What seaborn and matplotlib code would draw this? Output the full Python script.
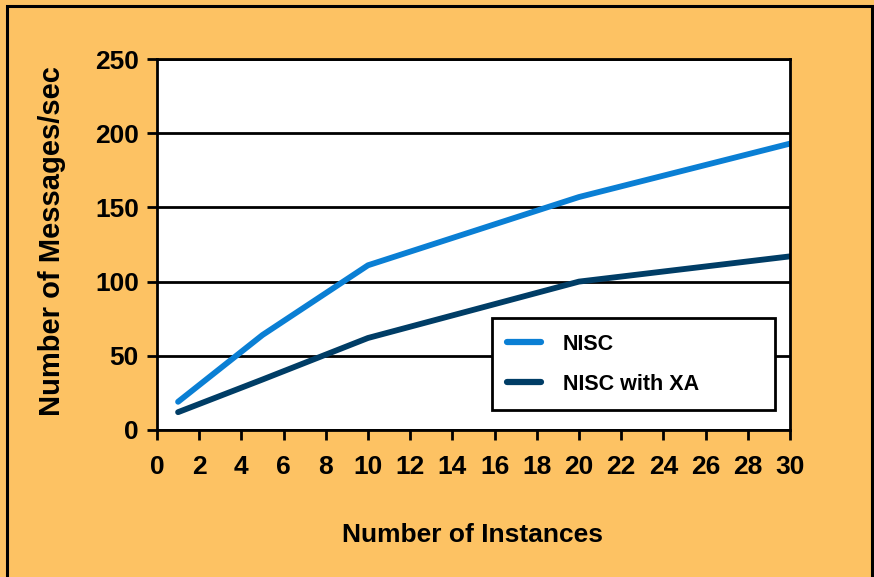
import matplotlib
matplotlib.use("Agg")
import matplotlib.pyplot as plt
from matplotlib.patches import Rectangle
import pandas as pd
import seaborn as sns

INSTANCES = [1, 5, 10, 20, 30]
NISC = [19, 64, 111, 157, 193]
NISC_XA = [12, 34, 62, 100, 117]
SERIES = ["NISC", "NISC with XA"]
COLORS = {"NISC": "#0A7FD4", "NISC with XA": "#003D66"}
BG = "#FDC263"

df = pd.DataFrame({
    "Number of Instances": INSTANCES * 2,
    "Number of Messages/sec": NISC + NISC_XA,
    "series": [SERIES[0]] * len(NISC) + [SERIES[1]] * len(NISC_XA),
})

sns.set_theme(style="white")
plt.rcParams["font.family"] = ["Liberation Sans", "DejaVu Sans"]
plt.rcParams["text.color"] = "black"
plt.rcParams["axes.labelcolor"] = "black"
plt.rcParams["xtick.color"] = "black"
plt.rcParams["ytick.color"] = "black"

fig = plt.figure(figsize=(8.74, 5.77), dpi=100, facecolor=BG)
ax = fig.add_axes([0.1796, 0.2548, 0.7243, 0.6429])
fig.patches.append(Rectangle((7 / 874, -0.05), 865 / 874, 1.05 - 5.5 / 577,
                             transform=fig.transFigure, fill=False,
                             edgecolor="black", linewidth=2.2))

sns.lineplot(data=df, x="Number of Instances", y="Number of Messages/sec",
             hue="series", palette=COLORS, linewidth=4.2, ax=ax)

ax.set_xlim(0, 30)
ax.set_ylim(0, 250)
ax.set_xticks(range(0, 31, 2))
ax.set_yticks(range(0, 251, 50))
ax.yaxis.grid(True, color="black", linewidth=2)
ax.set_axisbelow(True)
for side in ax.spines.values():
    side.set_color("black")
    side.set_linewidth(2)
ax.tick_params(axis="both", direction="out", length=7, width=2, color="black",
               labelsize=19, bottom=True, left=True)
ax.tick_params(axis="x", pad=11)
ax.tick_params(axis="y", pad=6)
for lab in ax.get_xticklabels() + ax.get_yticklabels():
    lab.set_fontweight("bold")

ax.set_xlabel("Number of Instances", fontsize=19, fontweight="bold")
ax.set_ylabel("Number of Messages/sec", fontsize=21, fontweight="bold")
ax.xaxis.set_label_coords(0.499, -0.25)
ax.yaxis.set_label_coords(-0.143, 0.51)

leg = ax.legend(title=None, loc="lower left", bbox_to_anchor=(0.529, 0.054, 0.447, 0.26),
                mode="expand", fancybox=False, framealpha=1, edgecolor="black",
                fontsize=15.5, handlelength=1.6, handletextpad=1.0, borderaxespad=0,
                labelspacing=0.9, borderpad=0.7)
leg.get_frame().set_linewidth(2)
for t in leg.get_texts():
    t.set_fontweight("bold")
for h in leg.get_lines():
    h.set_linewidth(4.5)

fig.savefig("out.png", dpi=100, facecolor=BG)
